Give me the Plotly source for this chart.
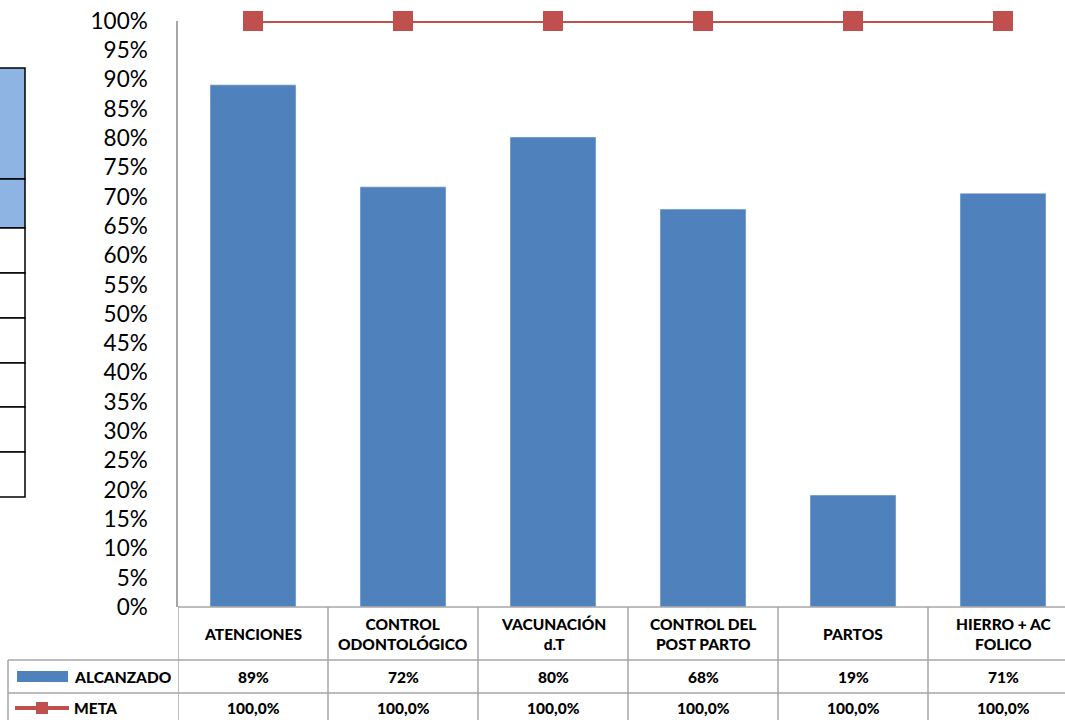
import plotly.graph_objects as go

categories = ["ATENCIONES", "CONTROL<br>ODONTOLÓGICO", "VACUNACIÓN<br>d.T",
              "CONTROL DEL<br>POST PARTO", "PARTOS", "HIERRO + AC<br>FOLICO"]
alcanzado = [0.891, 0.717, 0.802, 0.679, 0.191, 0.706]
meta = [1.0, 1.0, 1.0, 1.0, 1.0, 1.0]
alcanzado_labels = ["89%", "72%", "80%", "68%", "19%", "71%"]
meta_labels = ["100,0%", "100,0%", "100,0%", "100,0%", "100,0%", "100,0%"]
series_names = ["ALCANZADO", "META"]
yticks = [i * 0.05 for i in range(21)]

BLUE = "#4F81BD"
RED = "#C0504D"
GRID = "#A6A6A6"
FONT = "Lato"

W, H = 1065, 720
L, T, B = 178, 21, 113
PW = W - L
PH = H - T - B
COLW = 150.0
n = len(categories)
xidx = list(range(n))
x_max = -0.5 + PW / COLW

def px(xp):
    return (xp - L) / PW

def py(yp):
    return (H - B - yp) / PH

fig = go.Figure()
fig.add_trace(go.Bar(x=xidx, y=alcanzado, name=series_names[0], marker_color=BLUE,
                     width=0.573, showlegend=False))
fig.add_trace(go.Scatter(x=xidx, y=meta, name=series_names[1], mode="lines+markers",
                         line=dict(color=RED, width=4),
                         marker=dict(symbol="square", size=20, color=RED),
                         cliponaxis=False, showlegend=False))

shapes = []
ann = []
y_head_top = py(607)
y_row1 = py(660)
y_row2 = py(693)
y_bot = py(725)
for i in range(n + 1):
    xv = i - 0.5
    shapes.append(dict(type="line", xref="x", yref="paper", x0=xv, x1=xv,
                       y0=y_head_top, y1=y_bot, line=dict(color=GRID, width=1.5)))
for yv in (y_row1, y_row2):
    shapes.append(dict(type="line", xref="paper", yref="paper", x0=px(8), x1=1.0,
                       y0=yv, y1=yv, line=dict(color=GRID, width=1.5)))
shapes.append(dict(type="line", xref="paper", yref="paper", x0=px(8), x1=px(8),
                   y0=y_row1, y1=y_bot, line=dict(color=GRID, width=1.5)))
shapes.append(dict(type="line", xref="paper", yref="paper", x0=0, x1=1,
                   y0=y_head_top, y1=y_head_top, line=dict(color=GRID, width=1.5)))

TF = dict(family=FONT, size=15.5, color="black", weight=900)
for i in range(n):
    ann.append(dict(x=i, y=py(634), xref="x", yref="paper", text=categories[i],
                    showarrow=False, font=TF, xanchor="center", yanchor="middle"))
    ann.append(dict(x=i, y=py(676.5), xref="x", yref="paper", text=alcanzado_labels[i],
                    showarrow=False, font=TF, xanchor="center", yanchor="middle"))
    ann.append(dict(x=i, y=py(708), xref="x", yref="paper", text=meta_labels[i],
                    showarrow=False, font=TF, xanchor="center", yanchor="middle"))

shapes.append(dict(type="rect", xref="paper", yref="paper", x0=px(17), x1=px(68),
                   y0=py(671), y1=py(682), fillcolor=BLUE, line=dict(width=0)))
shapes.append(dict(type="line", xref="paper", yref="paper", x0=px(15), x1=px(69),
                   y0=py(708), y1=py(708), line=dict(color=RED, width=4)))
shapes.append(dict(type="rect", xref="paper", yref="paper", x0=px(36), x1=px(48),
                   y0=py(702), y1=py(714), fillcolor=RED, line=dict(width=0)))
ann.append(dict(x=px(72), y=py(676.5), xref="paper", yref="paper", text=series_names[0],
                showarrow=False, font=TF, xanchor="left", yanchor="middle"))
ann.append(dict(x=px(72), y=py(708), xref="paper", yref="paper", text=series_names[1],
                showarrow=False, font=TF, xanchor="left", yanchor="middle"))

shapes.append(dict(type="rect", xref="paper", yref="paper", x0=px(-20), x1=px(25),
                   y0=py(68), y1=py(179), fillcolor="#8DB4E2", line=dict(color="black", width=1.5)))
shapes.append(dict(type="rect", xref="paper", yref="paper", x0=px(-20), x1=px(25),
                   y0=py(179), y1=py(228), fillcolor="#8DB4E2", line=dict(color="black", width=1.5)))
for y0, y1 in [(228, 273), (273, 318), (318, 363), (363, 407), (407, 452), (452, 497)]:
    shapes.append(dict(type="rect", xref="paper", yref="paper", x0=px(-20), x1=px(25),
                       y0=py(y0), y1=py(y1), fillcolor="white", line=dict(color="black", width=1.5)))

fig.update_layout(
    width=W, height=H,
    margin=dict(l=L, r=0, t=T, b=B, pad=0),
    plot_bgcolor="white", paper_bgcolor="white",
    shapes=shapes, annotations=ann,
    xaxis=dict(range=[-0.5, x_max], showticklabels=False, showgrid=False,
               zeroline=False, showline=False, fixedrange=True),
    yaxis=dict(range=[0, 1], tickvals=yticks, tickformat=".0%", showgrid=False,
               zeroline=False, showline=True, linecolor=GRID, linewidth=1.5,
               ticks="", ticklabelstandoff=24,
               tickfont=dict(family=FONT, size=22.5, color="black")),
    font=dict(family=FONT),
)

fig.write_html("out.html", config={"displayModeBar": False},
               post_script="document.body.style.margin='0';document.body.style.overflow='hidden';")
